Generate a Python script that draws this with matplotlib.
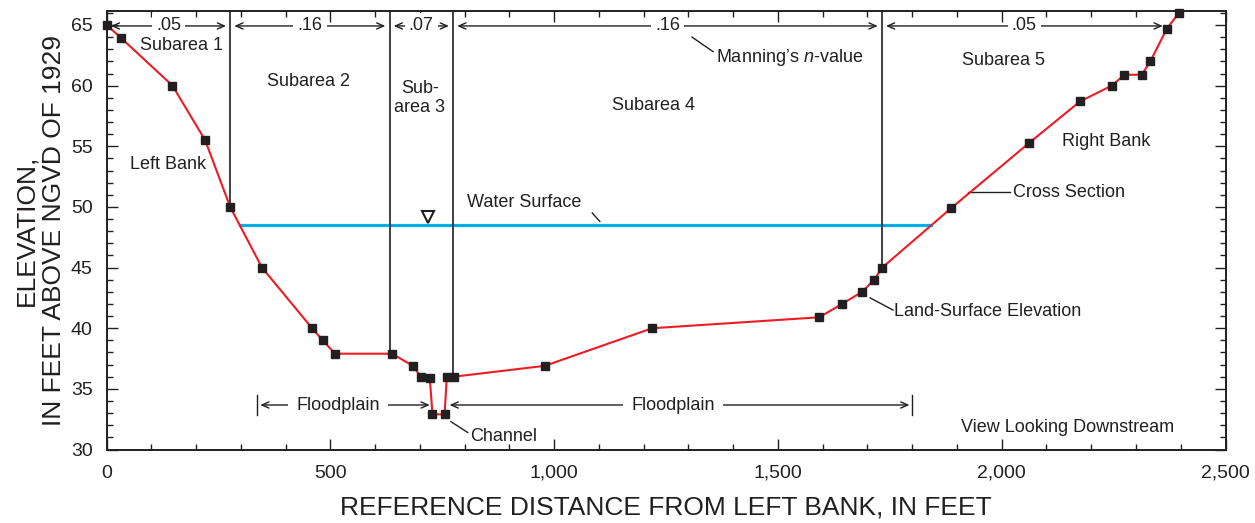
import numpy as np
import matplotlib
matplotlib.use('Agg')
import matplotlib.pyplot as plt

# cross-section survey points (distance from left bank, elevation)
dist = [0, 33, 147, 220, 276, 347, 459, 483, 510, 638, 684, 702, 722, 728, 755,
        760, 775, 979, 1219, 1592, 1643, 1688, 1715, 1733, 1887, 2062, 2175,
        2246, 2274, 2313, 2332, 2369, 2396]
elev = [65.0, 63.9, 60.0, 55.5, 50.0, 45.0, 40.0, 39.0, 37.9, 37.9, 36.9, 36.0,
        35.9, 32.9, 32.9, 36.0, 36.0, 36.9, 40.0, 40.9, 42.0, 43.0, 44.0, 45.0,
        49.9, 55.3, 58.7, 60.0, 60.9, 60.9, 62.0, 64.7, 66.0]

# subareas and Manning's n
sub_bounds = [0, 276, 632, 774, 1732, 2369]
n_values = ['.05', '.16', '.07', '.16', '.05']
water_elev = 48.5
floodplains = [(337, 728), (760, 1800)]

plt.rcParams['font.family'] = ['Liberation Sans', 'DejaVu Sans']
plt.rcParams['mathtext.fontset'] = 'custom'
plt.rcParams['mathtext.it'] = 'Liberation Sans:italic'
txtc = '#231f20'
red = '#ed1c24'
blue = '#00aeef'

fig = plt.figure(figsize=(12.55, 5.23), dpi=100)
ax = fig.add_axes([0.085, 0.1405, 0.8915, 0.8384])

d = np.array(dist)
e = np.array(elev)

# water surface between the banks
wl = np.interp(water_elev, e[4:6][::-1], d[4:6][::-1])
wr = np.interp(water_elev, e[22:26], d[22:26])
ax.plot([wl, wr], [water_elev, water_elev], color=blue, lw=2.3, zorder=2)

# subarea dividers
for b in sub_bounds[1:-1]:
    ax.plot([b, b], [np.interp(b, d, e), 70], color=txtc, lw=1.2, zorder=2)

ax.plot(d, e, color=red, lw=1.5, zorder=3)
ax.plot(d, e, 's', color=txtc, ms=6, zorder=4, clip_on=False)

# Manning's n arrows
ya = 64.92
for i, nv in enumerate(n_values):
    x0, x1 = sub_bounds[i], sub_bounds[i + 1]
    ax.annotate('', xy=(x0, ya), xytext=(x1, ya),
                arrowprops=dict(arrowstyle='<->,head_length=0.5,head_width=0.22',
                                color=txtc, lw=1.0, shrinkA=3, shrinkB=3))
    ax.text((x0 + x1) / 2, ya, nv, ha='center', va='center', fontsize=13, color=txtc,
            bbox=dict(facecolor='white', edgecolor='none', pad=3))

# floodplain arrows
yf = 33.67
for x0, x1 in floodplains:
    ax.annotate('', xy=(x0, yf), xytext=(x1, yf),
                arrowprops=dict(arrowstyle='<->,head_length=0.5,head_width=0.22',
                                color=txtc, lw=1.0, shrinkA=2, shrinkB=2))
    ax.text((x0 + x1) / 2 - 15, yf, 'Floodplain', ha='center', va='center', fontsize=13,
            color=txtc, bbox=dict(facecolor='white', edgecolor='none', pad=6))
ax.plot([337, 337], [32.85, 34.5], color=txtc, lw=1.0)
ax.plot([1800, 1800], [32.85, 34.5], color=txtc, lw=1.0)

# water surface symbol
ax.plot(718, 49.17, 'v', ms=8, mfc='white', mec=txtc, mew=1.5)

labels = [
    (168, 63.27, 'Subarea 1'), (450, 60.3, 'Subarea 2'), (700, 58.98, 'Sub-\narea 3'),
    (1221, 58.4, 'Subarea 4'), (2005, 62.1, 'Subarea 5'), (137, 53.46, 'Left Bank'),
    (2233, 55.4, 'Right Bank'), (2146, 31.85, 'View Looking Downstream'),
]
for x, y, s in labels:
    ax.text(x, y, s, ha='center', va='center', fontsize=13, color=txtc, linespacing=1.15)

# leader labels
leaders = [
    ((1308, 64.0), (1355, 62.8), (1362, 62.3), "Manning\u2019s $\\it{n}$-value"),
    ((1102, 48.8), (1085, 49.5), (805, 50.33), 'Water Surface'),
    ((1925, 51.23), (2019, 51.23), (2025, 51.23), 'Cross Section'),
    ((1706, 42.5), (1757, 41.5), (1760, 41.4), 'Land-Surface Elevation'),
    ((769, 32.3), (807, 31.4), (812, 31.1), 'Channel'),
]
for p0, p1, pt, s in leaders:
    ax.plot([p0[0], p1[0]], [p0[1], p1[1]], color=txtc, lw=1.0)
    ax.text(pt[0], pt[1], s, ha='left', va='center', fontsize=13, color=txtc)

ax.set_xlim(0, 2500)
ax.set_ylim(30, 66.15)
ax.set_xticks(np.arange(0, 2501, 500))
ax.set_xticks(np.arange(0, 2501, 100), minor=True)
ax.set_yticks(np.arange(30, 66, 5))
ax.set_yticks(np.arange(30, 67, 1), minor=True)
ax.set_xticklabels(['0', '500', '1,000', '1,500', '2,000', '2,500'])
ax.tick_params(which='both', direction='in', top=True, right=True, width=1.0,
               colors=txtc, labelsize=14)
ax.tick_params(which='major', length=8)
ax.tick_params(axis='x', which='major', pad=11)
ax.tick_params(axis='y', which='major', pad=10)
ax.tick_params(which='minor', length=4)
for sp in ax.spines.values():
    sp.set_linewidth(1.4)
    sp.set_color(txtc)

ax.set_xlabel('REFERENCE DISTANCE FROM LEFT BANK, IN FEET', fontsize=19, color=txtc)
ax.set_ylabel('ELEVATION,\nIN FEET ABOVE NGVD OF 1929', fontsize=19, color=txtc,
              linespacing=1.2)
ax.xaxis.set_label_coords(0.5, -0.105)
ax.yaxis.set_label_coords(-0.036, 0.5)

fig.savefig('out.png', dpi=100)
